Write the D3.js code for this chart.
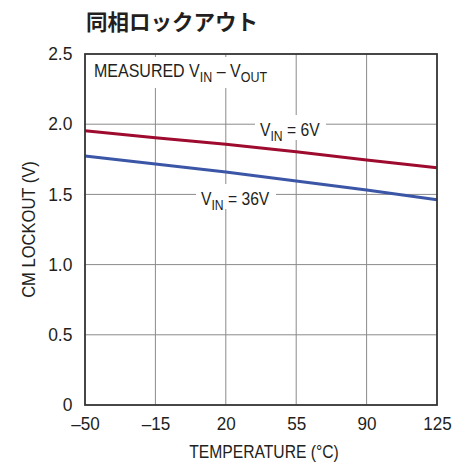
<!DOCTYPE html>
<html>
<head>
<meta charset="utf-8">
<script src="https://cdn.jsdelivr.net/npm/d3@7"></script>
<style>
  body { margin: 0; background: #fff; }
  text { font-family: "Liberation Sans", Arial, sans-serif; fill: #231f20; }
</style>
</head>
<body>
<svg></svg>
<script>
const temps = [-50, -15, 20, 55, 90, 125];
const vin6 = [1.953, 1.904, 1.857, 1.804, 1.745, 1.69];
const vin36 = [1.773, 1.716, 1.66, 1.595, 1.531, 1.462];
const xTicks = [-50, -15, 20, 55, 90, 125];
const yTicks = [0, 0.5, 1.0, 1.5, 2.0, 2.5];

const width = 462, height = 464;
const m = {left: 85, right: 25, top: 54, bottom: 59};
const svg = d3.select("svg").attr("width", width).attr("height", height);

const x = d3.scaleLinear().domain([-50, 125]).range([m.left, width - m.right]);
const y = d3.scaleLinear().domain([0, 2.5]).range([height - m.bottom, m.top]);

// narrow text: place at (px,py) and squeeze horizontally
const label = (px, py, k, size) => svg.append("text")
    .attr("transform", `translate(${px},${py}) scale(${k},1)`)
    .style("font-size", size + "px");

// title
svg.append("text")
    .attr("x", 86).attr("y", 30)
    .style("font-family", "'Noto Sans CJK JP', sans-serif")
    .style("font-weight", "bold")
    .style("font-size", "21.5px")
    .text("同相ロックアウト");

// grid
const grid = svg.append("g").attr("stroke", "#8a8a8a").attr("stroke-width", 1);
grid.selectAll(".vx")
    .data(xTicks.slice(1, -1))
    .enter().append("line")
    .attr("x1", d => x(d)).attr("x2", d => x(d))
    .attr("y1", y(2.5)).attr("y2", y(0));
grid.selectAll(".hy")
    .data(yTicks.slice(1, -1))
    .enter().append("line")
    .attr("x1", x(-50)).attr("x2", x(125))
    .attr("y1", d => y(d)).attr("y2", d => y(d));

// white knock-outs behind the labels
const knock = svg.append("g").attr("fill", "#fff");
knock.append("rect").attr("x", 88).attr("y", 57).attr("width", 182).attr("height", 31);
knock.append("rect").attr("x", 255).attr("y", 115).attr("width", 71).attr("height", 25);
knock.append("rect").attr("x", 196).attr("y", 184).attr("width", 80).attr("height", 25);

// lines
const line = d3.line().x(d => x(d[0])).y(d => y(d[1]));
svg.append("path")
    .datum(temps.map((t, i) => [t, vin6[i]]))
    .attr("d", line).attr("fill", "none")
    .attr("stroke", "#9e0b2f").attr("stroke-width", 3);
svg.append("path")
    .datum(temps.map((t, i) => [t, vin36[i]]))
    .attr("d", line).attr("fill", "none")
    .attr("stroke", "#3b56a6").attr("stroke-width", 3);

// frame
svg.append("rect")
    .attr("x", x(-50)).attr("y", y(2.5))
    .attr("width", x(125) - x(-50)).attr("height", y(0) - y(2.5))
    .attr("fill", "none").attr("stroke", "#333").attr("stroke-width", 1.8);

// axes
const xAxis = svg.append("g")
    .attr("transform", `translate(0,${y(0)})`)
    .call(d3.axisBottom(x).tickValues(xTicks).tickSize(0).tickPadding(12)
        .tickFormat(d => d < 0 ? "\u2013" + Math.abs(d) : d));
xAxis.select(".domain").remove();
xAxis.selectAll("text").style("font-size", "18px").attr("fill", "#231f20")
    .attr("transform", "scale(0.95,1)");

const yAxis = svg.append("g")
    .attr("transform", `translate(${x(-50)},0)`)
    .call(d3.axisLeft(y).tickValues(yTicks).tickSize(0).tickPadding(13)
        .tickFormat(d => d === 0 ? "0" : d3.format(".1f")(d)));
yAxis.select(".domain").remove();
yAxis.selectAll("text").style("font-size", "18px").attr("fill", "#231f20")
    .attr("transform", "scale(0.97,1)");

// axis titles
label(x(37.5) + 3, 458, 0.87, 18)
    .attr("text-anchor", "middle")
    .text("TEMPERATURE (°C)");
svg.append("text")
    .attr("transform", `translate(35,${y(1.25)}) rotate(-90) scale(0.92,1)`)
    .attr("text-anchor", "middle")
    .style("font-size", "18px")
    .text("CM LOCKOUT (V)");

// annotations with subscripts
const sub = (t, main, s, rest) => {
  t.append("tspan").text(main);
  t.append("tspan").attr("dy", 5).style("font-size", "14px").text(s);
  if (rest) t.append("tspan").attr("dy", -5).text(rest);
  return t;
};
const m1 = label(94, 77, 0.89, 18);
sub(m1, "MEASURED V", "IN", " \u2013 V");
m1.append("tspan").attr("dy", 5).style("font-size", "14px").text("OUT");

sub(label(260, 136, 0.87, 18), "V", "IN", " = 6V");
sub(label(201, 205, 0.87, 18), "V", "IN", " = 36V");
</script>
</body>
</html>
